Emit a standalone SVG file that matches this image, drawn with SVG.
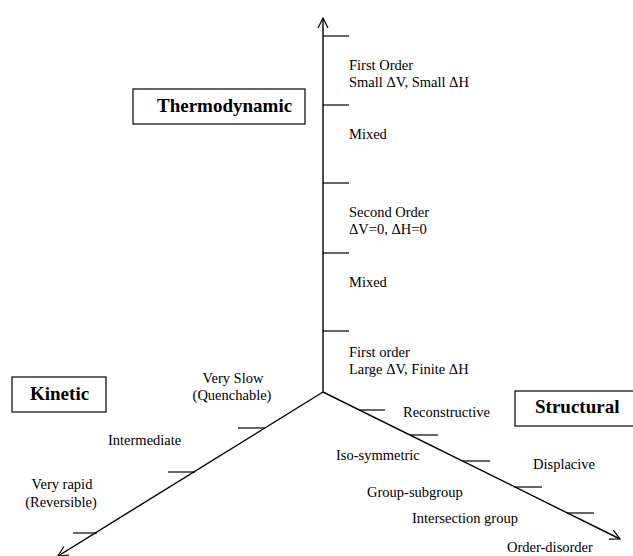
<svg xmlns="http://www.w3.org/2000/svg" width="633" height="556" viewBox="0 0 633 556">
<defs>
<style>
.ax{stroke:#000;stroke-width:1.4;fill:none}
.tk{stroke:#000;stroke-width:1.2;fill:none}
.box{fill:#fff;stroke:#000;stroke-width:1.2}
.lbl{font-family:"Liberation Serif","Times New Roman",serif;font-size:14.5px;fill:#000}
.ttl{font-family:"Liberation Serif","Times New Roman",serif;font-size:19px;font-weight:bold;fill:#000}
.mid{text-anchor:middle}
</style>
<marker id="arr" viewBox="0 0 12 12" refX="11" refY="6" markerWidth="12" markerHeight="12" markerUnits="userSpaceOnUse" orient="auto">
<path d="M1,1 L11,6 L1,11" fill="none" stroke="#000" stroke-width="1.2"/>
</marker>
</defs>
<rect width="633" height="556" fill="#fff"/>
<g id="connectors">
<line class="ax" x1="323" y1="392" x2="323" y2="18" marker-end="url(#arr)"/>
<line class="ax" x1="323" y1="392" x2="58" y2="556" marker-end="url(#arr)"/>
<line class="ax" x1="323" y1="392" x2="620" y2="539" marker-end="url(#arr)"/>
<line class="tk" x1="323" y1="36" x2="349" y2="36"/>
<line class="tk" x1="323" y1="105" x2="349" y2="105"/>
<line class="tk" x1="323" y1="183" x2="349" y2="183"/>
<line class="tk" x1="323" y1="253" x2="349" y2="253"/>
<line class="tk" x1="323" y1="331" x2="349" y2="331"/>
<line class="tk" x1="238" y1="428" x2="265" y2="428"/>
<line class="tk" x1="168" y1="472" x2="195" y2="472"/>
<line class="tk" x1="73" y1="533" x2="97" y2="533"/>
<line class="tk" x1="359" y1="410" x2="385" y2="410"/>
<line class="tk" x1="410" y1="435" x2="438" y2="435"/>
<line class="tk" x1="463" y1="461" x2="490" y2="461"/>
<line class="tk" x1="514" y1="487" x2="542" y2="487"/>
<line class="tk" x1="567" y1="513" x2="594" y2="513"/>
</g>
<g id="thermodynamic">
<rect class="box" x="133" y="89" width="172" height="35"/>
<text class="ttl" x="157" y="112">Thermodynamic</text>
</g>
<g id="kinetic">
<rect class="box" x="12" y="377" width="94" height="35"/>
<text class="ttl" x="30" y="400">Kinetic</text>
</g>
<g id="structural">
<rect class="box" x="515" y="391" width="125" height="35"/>
<text class="ttl" x="535" y="413">Structural</text>
</g>
<g id="thermo-labels">
<text class="lbl" x="349" y="70">First Order</text>
<text class="lbl" x="349" y="87">Small ΔV, Small ΔH</text>
<text class="lbl" x="349" y="139">Mixed</text>
<text class="lbl" x="349" y="217">Second Order</text>
<text class="lbl" x="349" y="234">ΔV=0, ΔH=0</text>
<text class="lbl" x="349" y="287">Mixed</text>
<text class="lbl" x="349" y="357">First order</text>
<text class="lbl" x="349" y="374">Large ΔV, Finite ΔH</text>
</g>
<g id="kinetic-labels">
<text class="lbl mid" x="233" y="383">Very Slow</text>
<text class="lbl mid" x="232" y="400">(Quenchable)</text>
<text class="lbl" x="108" y="445">Intermediate</text>
<text class="lbl mid" x="62" y="489">Very rapid</text>
<text class="lbl mid" x="61" y="507">(Reversible)</text>
</g>
<g id="structural-labels">
<text class="lbl" x="403" y="417">Reconstructive</text>
<text class="lbl" x="336" y="460">Iso-symmetric</text>
<text class="lbl" x="533" y="469">Displacive</text>
<text class="lbl" x="367" y="497">Group-subgroup</text>
<text class="lbl" x="412" y="523">Intersection group</text>
<text class="lbl" x="507" y="552">Order-disorder</text>
</g>
</svg>
